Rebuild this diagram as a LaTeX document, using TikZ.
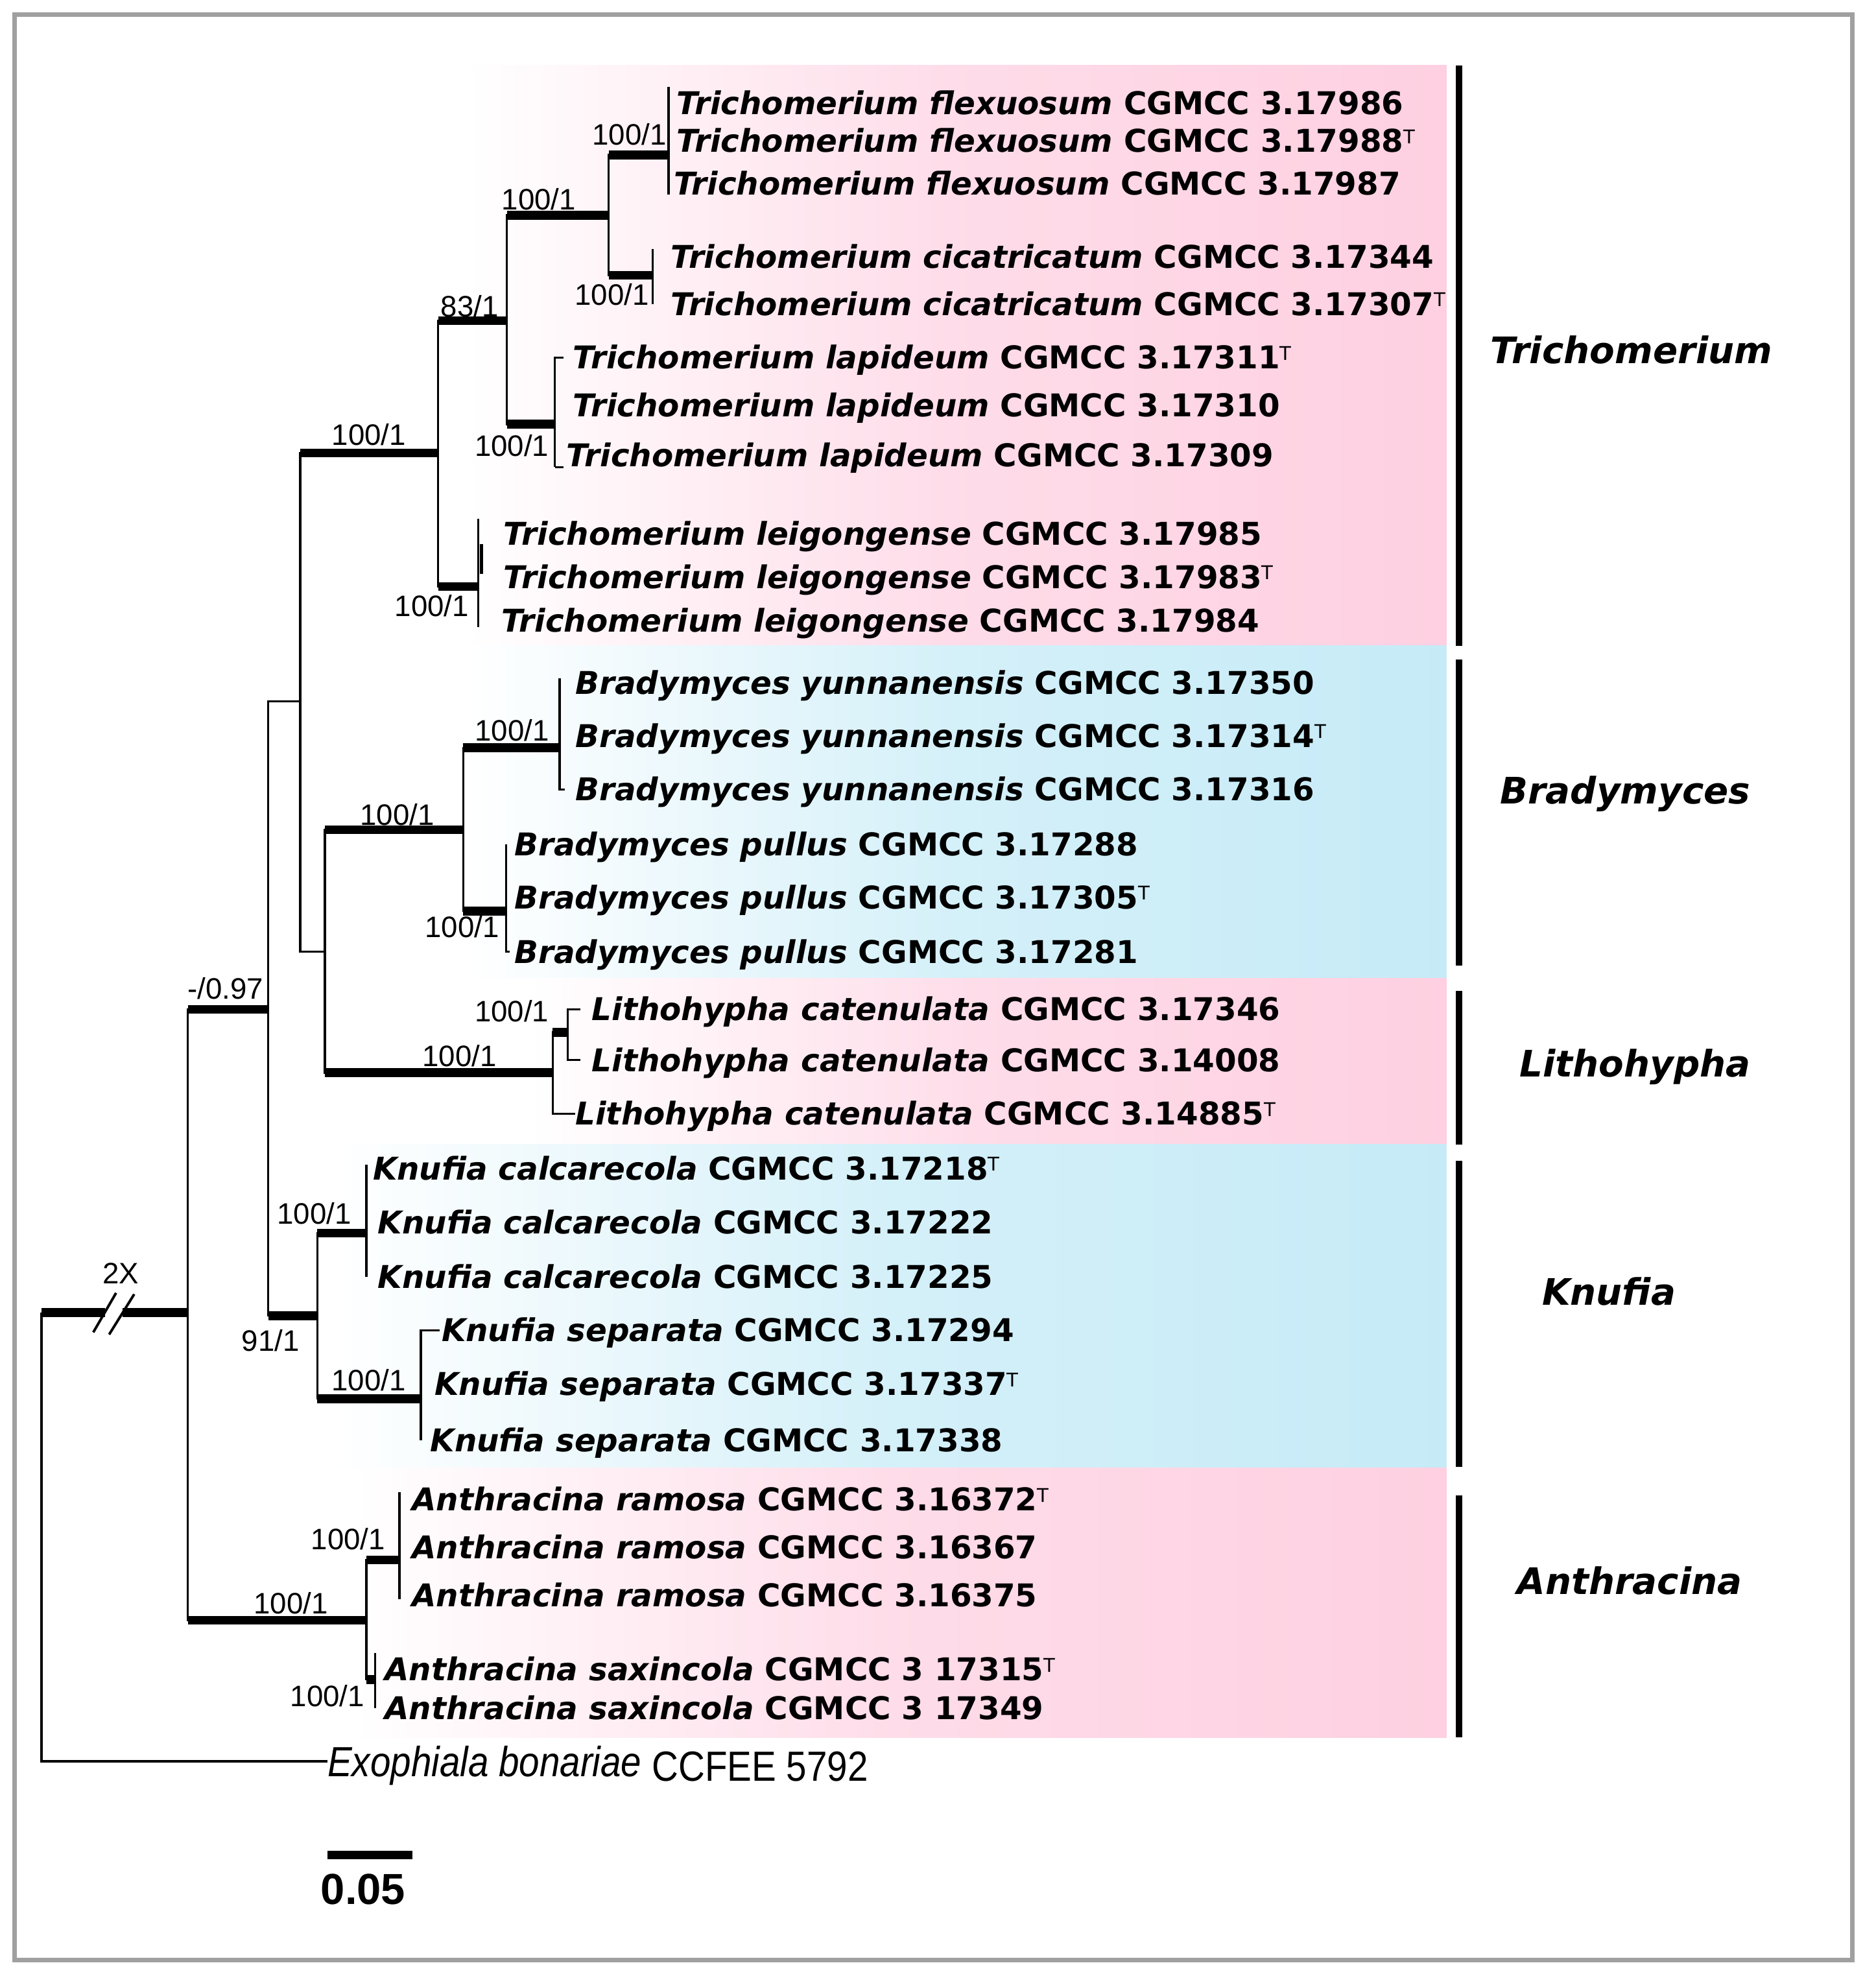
\documentclass[tikz,border=0pt]{standalone}
\usepackage{fontspec}
\setmainfont{Liberation Sans}
\newfontfamily\verdfont{DejaVu Sans}
\newfontfamily\narrowfont{Liberation Sans}[FakeStretch=0.87]
\usetikzlibrary{calc}

\definecolor{pinkband}{RGB}{254,208,225}
\definecolor{blueband}{RGB}{198,235,247}
\definecolor{framegray}{RGB}{160,160,160}

\newcommand{\typeT}{\raisebox{7pt}{\fontsize{15}{15}\selectfont\mdseries\upshape T}}
\newcommand{\taxon}[2]{\textit{#1} #2}

\begin{document}
\begin{tikzpicture}[
    x=1pt, y=-1pt,
    br/.style={line width=1.7pt},
    bigbr/.style={line width=7pt},
    tip/.style={anchor=west, inner sep=0pt, text height=18pt, text depth=0pt,
        font=\verdfont\bfseries\fontsize{24.9}{28}\selectfont},
    outtip/.style={anchor=west, inner sep=0pt, text height=24pt, text depth=0pt,
        font=\narrowfont\fontsize{33.5}{36}\selectfont},
    bs/.style={inner sep=0pt, font=\fontsize{23.5}{26}\selectfont},
    genus/.style={anchor=base, yshift=-10.5pt, inner sep=0pt,
        font=\verdfont\bfseries\itshape\fontsize{29}{32}\selectfont},
    genusbar/.style={line width=5pt},
    pinkbox/.style={left color=white, right color=pinkband, middle color=pinkband!75},
    bluebox/.style={left color=white, right color=blueband, middle color=blueband!75}
]
\useasboundingbox (0,0) rectangle (1490,1568);

% Frame
\draw[framegray, line width=3.5pt] (11.5,11.5) rectangle (1471.5,1557);

% Coloured bands
\shade[pinkbox] (370,52) rectangle (1149,513);
\shade[bluebox] (370,513) rectangle (1149,777);
\shade[pinkbox] (420,777) rectangle (1149,909);
\shade[bluebox] (265,909) rectangle (1149,1166);
\shade[pinkbox] (280,1166) rectangle (1149,1380);

% Genus bars
\draw[genusbar] (1159,52) -- (1159,513);
\draw[genusbar] (1159,524) -- (1159,767);
\draw[genusbar] (1159,787) -- (1159,909);
\draw[genusbar] (1159,922) -- (1159,1165);
\draw[genusbar] (1159,1188) -- (1159,1380);

% Genus names
\node[genus] (gTri) at (1296,278) {Trichomerium};
\node[genus] (gBra) at (1291,628) {Bradymyces};
\node[genus] (gLit) at (1299,845) {Lithohypha};
\node[genus] (gKnu) at (1278,1026) {Knufia};
\node[genus] (gAnt) at (1294.5,1256) {Anthracina};

% Internal nodes
\coordinate (root) at (33,1042.5);
\coordinate (brkL) at (83.2,1042.5);
\coordinate (brkR) at (97.6,1042.5);
\coordinate (ing) at (149.3,1042.5);
\coordinate (nA) at (213,801.7);
\coordinate (nB) at (238.5,557);
\coordinate (nTri) at (348,359.8);
\coordinate (nT1) at (402.6,254.7);
\coordinate (nT2) at (483.6,171);
\coordinate (nFlex) at (531,123);
\coordinate (nCic) at (518.5,218.6);
\coordinate (nLap) at (440.7,337);
\coordinate (nLei) at (380,466);
\coordinate (nC) at (258,756);
\coordinate (nBra) at (368,659);
\coordinate (nYun) at (444.6,594);
\coordinate (nPul) at (402,723.6);
\coordinate (nLit) at (439,852);
\coordinate (nLit2) at (451,820);
\coordinate (nKnu) at (252,1045);
\coordinate (nCal) at (291,979.5);
\coordinate (nSep) at (334.3,1111);
\coordinate (nAnt) at (291,1287);
\coordinate (nRam) at (317.3,1239);
\coordinate (nSax) at (298,1334);

% Tips: Trichomerium
\node[tip] (tFlexA) at (537.4,82) {\taxon{Trichomerium flexuosum}{CGMCC 3.17986}};
\node[tip] (tFlexB) at (537.4,112) {\taxon{Trichomerium flexuosum}{CGMCC 3.17988\typeT}};
\node[tip] (tFlexC) at (535,146) {\taxon{Trichomerium flexuosum}{CGMCC 3.17987}};
\node[tip] (tCicA) at (532.6,204) {\taxon{Trichomerium cicatricatum}{CGMCC 3.17344}};
\node[tip] (tCicB) at (532.6,241.6) {\taxon{Trichomerium cicatricatum}{CGMCC 3.17307\typeT}};
\node[tip] (tLapA) at (455,284) {\taxon{Trichomerium lapideum}{CGMCC 3.17311\typeT}};
\node[tip] (tLapB) at (455,322) {\taxon{Trichomerium lapideum}{CGMCC 3.17310}};
\node[tip] (tLapC) at (450,361.5) {\taxon{Trichomerium lapideum}{CGMCC 3.17309}};
\node[tip] (tLeiA) at (400,424) {\taxon{Trichomerium leigongense}{CGMCC 3.17985}};
\node[tip] (tLeiB) at (400,458.5) {\taxon{Trichomerium leigongense}{CGMCC 3.17983\typeT}};
\node[tip] (tLeiC) at (398,493) {\taxon{Trichomerium leigongense}{CGMCC 3.17984}};

% Tips: Bradymyces
\node[tip] (tYunA) at (457,542.6) {\taxon{Bradymyces yunnanensis}{CGMCC 3.17350}};
\node[tip] (tYunB) at (457,584.6) {\taxon{Bradymyces yunnanensis}{CGMCC 3.17314\typeT}};
\node[tip] (tYunC) at (457,627) {\taxon{Bradymyces yunnanensis}{CGMCC 3.17316}};
\node[tip] (tPulA) at (408.5,670.6) {\taxon{Bradymyces pullus}{CGMCC 3.17288}};
\node[tip] (tPulB) at (408.5,712.7) {\taxon{Bradymyces pullus}{CGMCC 3.17305\typeT}};
\node[tip] (tPulC) at (408.5,756) {\taxon{Bradymyces pullus}{CGMCC 3.17281}};

% Tips: Lithohypha
\node[tip] (tLitA) at (470,801.6) {\taxon{Lithohypha catenulata}{CGMCC 3.17346}};
\node[tip] (tLitB) at (470,842) {\taxon{Lithohypha catenulata}{CGMCC 3.14008}};
\node[tip] (tLitC) at (457,884.6) {\taxon{Lithohypha catenulata}{CGMCC 3.14885\typeT}};

% Tips: Knufia
\node[tip] (tCalA) at (296,928) {\taxon{Knufia calcarecola}{CGMCC 3.17218\typeT}};
\node[tip] (tCalB) at (300,971) {\taxon{Knufia calcarecola}{CGMCC 3.17222}};
\node[tip] (tCalC) at (300,1014) {\taxon{Knufia calcarecola}{CGMCC 3.17225}};
\node[tip] (tSepA) at (350.6,1056.6) {\taxon{Knufia separata}{CGMCC 3.17294}};
\node[tip] (tSepB) at (345,1099.5) {\taxon{Knufia separata}{CGMCC 3.17337\typeT}};
\node[tip] (tSepC) at (341.6,1144) {\taxon{Knufia separata}{CGMCC 3.17338}};

% Tips: Anthracina
\node[tip] (tRamA) at (327,1191) {\taxon{Anthracina ramosa}{CGMCC 3.16372\typeT}};
\node[tip] (tRamB) at (327,1229) {\taxon{Anthracina ramosa}{CGMCC 3.16367}};
\node[tip] (tRamC) at (327,1267) {\taxon{Anthracina ramosa}{CGMCC 3.16375}};
\node[tip] (tSaxA) at (305.5,1326) {\taxon{Anthracina saxincola}{CGMCC 3 17315\typeT}};
\node[tip] (tSaxB) at (305.5,1357) {\taxon{Anthracina saxincola}{CGMCC 3 17349}};

% Outgroup
\node[outtip] (tOut) at (260,1399) {\textit{Exophiala bonariae} \raisebox{-3.8pt}{CCFEE 5792}};

% Branches (thin part)
\draw[br] (root) |- (tOut.west);
\foreach \p/\c in {ing/nA, ing/nAnt, nA/nB, nA/nKnu, nB/nTri, nB/nC, nTri/nT1, nTri/nLei,
    nT1/nT2, nT1/nLap, nT2/nFlex, nT2/nCic, nC/nBra, nC/nLit, nBra/nYun, nBra/nPul,
    nLit/nLit2, nKnu/nCal, nKnu/nSep, nAnt/nRam, nAnt/nSax}
    \draw[br] (\p) |- (\c);
\draw[br] (nLit) |- (tLitC.west);

% Supported branches
\draw[bigbr] (root) -- (brkL);
\draw[bigbr] (brkR) -- (ing);
\foreach \p/\c in {ing/nA, ing/nAnt, nA/nKnu, nB/nTri, nTri/nT1, nTri/nLei,
    nT1/nT2, nT1/nLap, nT2/nFlex, nT2/nCic, nC/nBra, nC/nLit, nBra/nYun, nBra/nPul,
    nLit/nLit2, nKnu/nCal, nKnu/nSep, nAnt/nRam, nAnt/nSax}
    \draw[bigbr] (\p |- \c) -- (\c);

% Break on root branch
\draw[line width=2pt] (74.1,1058.3) -- (92.2,1027);
\draw[line width=2pt] (86.7,1060) -- (106.6,1028);
\node[bs] (brk) at (96,1011.6) {2X};

% Terminal clades
\draw[br, shorten <=-13pt, shorten >=-8.5pt] (nFlex |- tFlexA.west) -- (nFlex |- tFlexC.west);
\draw[br, shorten <=-6pt] (nCic |- tCicA.west) -- (nCic |- tCicB.west);
\draw[br, shorten >=-9.5pt] ([xshift=7pt]nLap |- tLapA.west) -- (nLap |- tLapA.west) -- (nLap |- tLapC.west);
\draw[br] ($(nLap |- tLapC.west)+(0,9.5)$) -- ++(7,0);
\draw[br, shorten <=-12pt, shorten >=-5pt] (nLei |- tLeiA.west) -- (nLei |- tLeiC.west);
\draw[line width=3pt] ($(nLei)+(2.5,-34)$) -- ($(nLei)+(2.5,-10)$);
\draw[br, shorten <=-3.6pt] (nYun |- tYunA.west) -- (nYun |- tYunC.west) -- ++(4,0);
\draw[br] (nPul |- tPulA.west) -- (nPul |- tPulC.west) -- ++(3,0);
\draw[br] ([xshift=10pt]nLit2 |- tLitA.west) -- (nLit2 |- tLitA.west) -- (nLit2 |- tLitB.west) -- ++(10,0);
\draw[br, shorten <=-3pt] (nCal |- tCalA.west) -- (nCal |- tCalC.west);
\draw[br] ([xshift=15pt]nSep |- tSepA.west) -- (nSep |- tSepA.west) -- (nSep |- tSepC.west);
\draw[br, shorten <=-6pt, shorten >=-3pt] (nRam |- tRamA.west) -- (nRam |- tRamC.west);
\draw[br, shorten <=-13pt] (nSax |- tSaxA.west) -- (nSax |- tSaxB.west);

% Support values
\node[bs] (bsTri) at (293,345) {100/1};
\node[bs] (bsT1) at (373,243) {83/1};
\node[bs] (bsT2) at (428,158) {100/1};
\node[bs] (bsFlex) at (500,106.8) {100/1};
\node[bs] (bsCic) at (486,234) {100/1};
\node[bs] (bsLap) at (406.5,354) {100/1};
\node[bs] (bsLei) at (343,481) {100/1};
\node[bs] (bsA) at (179,785) {-/0.97};
\node[bs] (bsBra) at (315.5,647) {100/1};
\node[bs] (bsYun) at (406.6,580) {100/1};
\node[bs] (bsPul) at (367,736) {100/1};
\node[bs] (bsLit) at (365,838.5) {100/1};
\node[bs] (bsLit2) at (406.5,803) {100/1};
\node[bs] (bsKnu) at (215,1065) {91/1};
\node[bs] (bsCal) at (249.5,964) {100/1};
\node[bs] (bsSep) at (292.8,1096) {100/1};
\node[bs] (bsAnt) at (231,1273.6) {100/1};
\node[bs] (bsRam) at (276.5,1222.6) {100/1};
\node[bs] (bsSax) at (260,1347) {100/1};

% Scale bar
\coordinate (sbL) at (260,1473.5);
\coordinate (sbR) at (327.5,1473.5);
\draw[line width=6.5pt] (sbL) -- (sbR);
\node[inner sep=0pt, font=\bfseries\fontsize{34.5}{38}\selectfont] (sbLab) at (288.5,1500.5) {0.05};

\end{tikzpicture}
\end{document}
